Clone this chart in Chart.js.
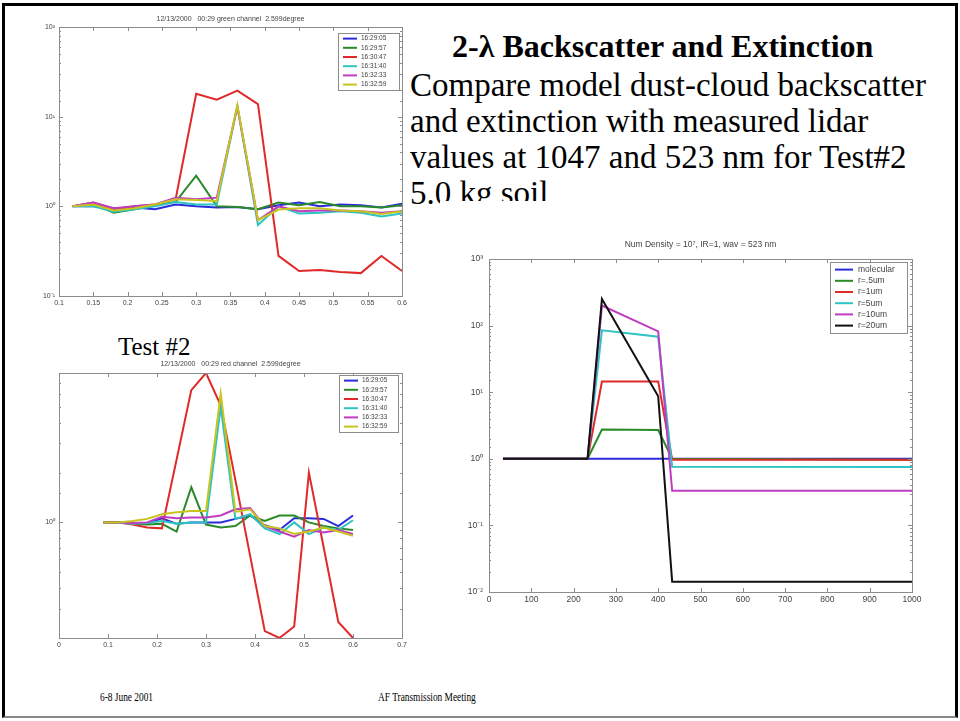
<!DOCTYPE html>
<html>
<head>
<meta charset="utf-8">
<title>2-λ Backscatter and Extinction</title>
<script src="https://cdn.jsdelivr.net/npm/chart.js@4.4.0/dist/chart.umd.min.js"></script>
<style>
  html, body { margin: 0; padding: 0; background: #fff; }
  body { width: 960px; height: 721px; position: relative; overflow: hidden; font-family: "Liberation Serif", "Times New Roman", serif; color: #000; }
  .frame { position: absolute; left: 2px; top: 3px; width: 950px; height: 710px; border: 3px solid #000; border-bottom: 2px solid #888; }
  .abs { position: absolute; white-space: nowrap; }
  .head { left: 452px; top: 28px; font-size: 32px; line-height: 36px; font-weight: bold; }
  .body { left: 410px; top: 67px; font-size: 33px; line-height: 36px; }
  .test { left: 118px; top: 333px; font-size: 25px; line-height: 28px; }
  .foot { top: 689px; font-size: 13px; line-height: 16px; transform: scaleX(0.72); transform-origin: 0 0; }
  canvas { position: absolute; display: block; }
  #greenChart { left: 20px; top: 10px; }
  #redChart { left: 20px; top: 352px; }
  #modelChart { left: 440px; top: 201px; background: #fff; z-index: 2; }
</style>
</head>
<body>
<div class="frame"></div>
<div class="abs head">2-λ Backscatter and Extinction</div>
<div class="abs body">Compare model dust-cloud backscatter<br>and extinction with measured lidar<br>values at 1047 and 523 nm for Test#2<br>5.0 kg soil</div>
<div class="abs test">Test #2</div>
<div class="abs foot" style="left:100px">6-8 June 2001</div>
<div class="abs foot" style="left:378px">AF Transmission Meeting</div>

<canvas id="greenChart" width="400" height="300"></canvas>
<canvas id="redChart" width="400" height="300"></canvas>
<canvas id="modelChart" width="500" height="420"></canvas>

<script>
// lidar runs (legend labels for both measured plots)
const times = ['16:29:05', '16:29:57', '16:30:47', '16:31:40', '16:32:33', '16:32:59'];
const runColors = ['#2b2bdc', '#2a8a2a', '#e02a2a', '#2ec4c4', '#c03cc0', '#c8c41e'];

// green channel (top left)
const greenX = [0.12, 0.15, 0.18, 0.21, 0.24, 0.27, 0.30, 0.33, 0.36, 0.39, 0.42, 0.45, 0.48, 0.51, 0.54, 0.57, 0.60];
const green_162905 = [1.00, 1.00, 0.95, 0.97, 0.93, 1.05, 1.00, 0.97, 0.98, 0.93, 1.03, 1.10, 1.00, 1.05, 1.03, 0.97, 1.07];
const green_162957 = [1.00, 1.05, 0.85, 0.93, 1.02, 1.12, 2.20, 1.00, 0.98, 0.93, 1.10, 1.03, 1.12, 1.00, 1.00, 0.97, 1.03];
const green_163047 = [1.00, 1.10, 0.93, 1.00, 1.05, 1.20, 18.0, 15.5, 19.5, 13.8, 0.28, 0.19, 0.195, 0.185, 0.18, 0.28, 0.19];
const green_163140 = [1.00, 1.00, 0.87, 0.93, 1.00, 1.12, 1.05, 1.05, 13.0, 0.62, 1.00, 0.83, 0.85, 0.88, 0.85, 0.77, 0.83];
const green_163233 = [1.00, 1.10, 0.95, 1.00, 1.05, 1.25, 1.20, 1.25, 13.0, 0.70, 1.00, 0.88, 0.90, 0.90, 0.88, 0.85, 0.88];
const green_163259 = [1.00, 1.05, 0.90, 0.95, 1.05, 1.20, 1.18, 1.15, 13.4, 0.70, 0.92, 0.95, 0.95, 0.90, 0.88, 0.82, 0.88];
const greenXTicks = [0.1, 0.15, 0.2, 0.25, 0.3, 0.35, 0.4, 0.45, 0.5, 0.55, 0.6];
const greenYTicks = [0.1, 1, 10, 100];
const greenYLabels = ['10⁻¹', '10⁰', '10¹', '10²'];

// red channel (bottom left)
const redX = [0.09, 0.12, 0.15, 0.18, 0.21, 0.24, 0.27, 0.30, 0.33, 0.36, 0.39, 0.42, 0.45, 0.48, 0.51, 0.54, 0.57, 0.60];
const red_162905 = [1.00, 1.00, 0.99, 0.98, 1.06, 0.98, 1.00, 1.00, 1.00, 1.05, 1.10, 0.96, 0.90, 1.06, 1.06, 1.05, 0.95, 1.10];
const red_162957 = [1.00, 1.00, 0.98, 0.97, 0.98, 0.88, 1.63, 0.97, 0.93, 0.95, 1.10, 1.02, 1.10, 1.10, 1.00, 0.95, 0.92, 0.90];
const red_163047 = [1.00, 1.00, 0.97, 0.93, 0.92, 2.40, 6.30, 8.00, 5.10, 1.80, 0.63, 0.22, 0.20, 0.235, 2.00, 0.71, 0.25, 0.20];
const red_163140 = [1.00, 1.00, 0.98, 0.99, 1.02, 0.98, 1.00, 1.00, 5.00, 1.05, 1.12, 0.92, 0.85, 1.00, 0.85, 0.93, 0.90, 1.03];
const red_163233 = [1.00, 1.00, 0.99, 1.00, 1.08, 1.06, 1.07, 1.07, 1.10, 1.20, 1.22, 0.95, 0.88, 0.82, 0.90, 0.87, 0.90, 0.85];
const red_163259 = [1.00, 1.00, 1.02, 1.05, 1.12, 1.15, 1.17, 1.17, 6.00, 1.16, 1.20, 0.95, 0.92, 0.85, 0.88, 0.93, 0.88, 0.83];
const redXTicks = [0, 0.1, 0.2, 0.3, 0.4, 0.5, 0.6, 0.7];
const redYTicks = [1];
const redYLabels = ['10⁰'];

// model (right)
const modelX = [33, 233, 267, 400, 433, 1000];
const modelLabels = ['molecular', 'r=.5um', 'r=1um', 'r=5um', 'r=10um', 'r=20um'];
const modelColors = ['#2b2bdc', '#2a8a2a', '#e02a2a', '#2ec4c4', '#c03cc0', '#111111'];
const model_molecular = [1, 1, 1, 1, 1, 1];
const model_r05 = [1, 1, 2.75, 2.7, 1.0, 0.97];
const model_r1 = [1, 1, 14.5, 14.5, 0.97, 0.97];
const model_r5 = [1, 1, 85, 68, 0.76, 0.75];
const model_r10 = [1, 1, 200, 82, 0.33, 0.33];
const model_r20 = [1, 1, 250, 8.7, 0.0143, 0.0143];
const modelXTicks = [0, 100, 200, 300, 400, 500, 600, 700, 800, 900, 1000];
const modelYTicks = [0.01, 0.1, 1, 10, 100, 1000];
const modelYLabels = ['10⁻²', '10⁻¹', '10⁰', '10¹', '10²', '10³'];

const AXIS_FONT = '"Liberation Sans", Arial, sans-serif';

// MATLAB-like box: inward ticks on all sides, title above, boxed legend top right
const matlabAxes = {
    id: 'matlabAxes',
    afterDraw(chart, args, opts) {
        const ctx = chart.ctx;
        const a = chart.chartArea;
        const xs = chart.scales.x, ys = chart.scales.y;
        ctx.save();
        ctx.strokeStyle = '#8c8c8c';
        ctx.lineWidth = 1;
        ctx.beginPath();
        xs.ticks.forEach(t => {
            const px = Math.round(xs.getPixelForValue(t.value)) + 0.5;
            ctx.moveTo(px, a.bottom); ctx.lineTo(px, a.bottom - 4);
            ctx.moveTo(px, a.top); ctx.lineTo(px, a.top + 4);
        });
        ys.ticks.forEach(t => {
            const lg = Math.log10(t.value);
            const len = Math.abs(lg - Math.round(lg)) < 1e-6 ? 4 : 2;
            const py = Math.round(ys.getPixelForValue(t.value)) + 0.5;
            ctx.moveTo(a.left, py); ctx.lineTo(a.left + len, py);
            ctx.moveTo(a.right, py); ctx.lineTo(a.right - len, py);
        });
        ctx.stroke();
        ctx.strokeRect(Math.round(a.left) + 0.5, Math.round(a.top) + 0.5,
            Math.round(a.right - a.left), Math.round(a.bottom - a.top));

        // title
        ctx.fillStyle = '#444';
        ctx.font = opts.titleSize + 'px ' + AXIS_FONT;
        ctx.textAlign = 'center';
        ctx.textBaseline = 'middle';
        ctx.fillText(opts.title, (a.left + a.right) / 2, a.top - opts.titleGap);

        // legend
        const lg = opts.legend;
        const bx = Math.round(a.right - lg.inset - lg.width), by = Math.round(a.top + lg.top);
        ctx.fillStyle = '#fff';
        ctx.fillRect(bx, by, lg.width, lg.height);
        ctx.strokeStyle = '#8c8c8c';
        ctx.lineWidth = 1;
        ctx.strokeRect(bx + 0.5, by + 0.5, lg.width, lg.height);
        ctx.font = lg.size + 'px ' + AXIS_FONT;
        ctx.textAlign = 'left';
        chart.data.datasets.forEach((ds, i) => {
            const y = by + lg.pad + lg.row * (i + 0.5);
            ctx.strokeStyle = ds.borderColor;
            ctx.lineWidth = 2;
            ctx.beginPath();
            ctx.moveTo(bx + lg.lineX, y);
            ctx.lineTo(bx + lg.lineX + lg.lineLen, y);
            ctx.stroke();
            ctx.fillStyle = '#444';
            ctx.fillText(ds.label, bx + lg.lineX + lg.lineLen + lg.gap, y);
        });
        ctx.restore();
    }
};

function makeDatasets(xs, series, labels, colors) {
    return series.map((ys, i) => ({
        label: labels[i],
        data: xs.map((x, j) => ({ x: x, y: ys[j] })),
        borderColor: colors[i],
        borderWidth: 2,
        pointRadius: 0,
        tension: 0,
        fill: false,
        order: series.length - i   // later runs drawn on top, like MATLAB
    }));
}

function logLabel(vals, labels) {
    return function(v) {
        const i = vals.findIndex(t => Math.abs(t - v) / t < 1e-6);
        return i >= 0 ? labels[i] : '';
    };
}

function makeChart(id, cfg) {
    return new Chart(document.getElementById(id), {
        type: 'line',
        data: { datasets: cfg.datasets },
        options: {
            responsive: false,
            animation: false,
            events: [],
            layout: { padding: cfg.padding },
            plugins: {
                legend: { display: false },
                title: { display: false },
                tooltip: { enabled: false },
                matlabAxes: cfg.deco
            },
            scales: {
                x: {
                    type: 'linear',
                    min: cfg.xMin,
                    max: cfg.xMax,
                    grid: { display: false, drawTicks: false },
                    border: { display: false },
                    afterBuildTicks: s => { s.ticks = cfg.xTicks.map(v => ({ value: v })); },
                    afterFit: s => { s.height = cfg.xHeight; },
                    ticks: {
                        autoSkip: false,
                        maxRotation: 0,
                        padding: cfg.tickPad,
                        color: '#444',
                        font: { family: AXIS_FONT, size: cfg.tickSize },
                        callback: v => String(v)
                    }
                },
                y: {
                    type: 'logarithmic',
                    min: cfg.yMin,
                    max: cfg.yMax,
                    grid: { display: false, drawTicks: false },
                    border: { display: false },
                    afterFit: s => { s.width = cfg.yWidth; },
                    ticks: {
                        autoSkip: false,
                        padding: cfg.yPad,
                        color: '#444',
                        font: { family: AXIS_FONT, size: cfg.tickSize },
                        callback: logLabel(cfg.yTicks, cfg.yLabels)
                    }
                }
            }
        },
        plugins: [matlabAxes]
    });
}

document.addEventListener('DOMContentLoaded', function() {
    makeChart('greenChart', {
        datasets: makeDatasets(greenX,
            [green_162905, green_162957, green_163047, green_163140, green_163233, green_163259],
            times, runColors),
        padding: { top: 17, right: 18, bottom: 0, left: 0 },
        xMin: 0.1, xMax: 0.6, xTicks: greenXTicks, xHeight: 14,
        yMin: 0.1, yMax: 100, yTicks: greenYTicks, yLabels: greenYLabels, yWidth: 39,
        tickSize: 7, tickPad: 3, yPad: 4,
        deco: {
            title: '12/13/2000   00:29 green channel  2.599degree', titleSize: 7, titleGap: 8,
            legend: { inset: 3, top: 6, width: 61, height: 57, pad: 1, row: 9.2, lineX: 5, lineLen: 14, gap: 4, size: 6.5 }
        }
    });

    makeChart('redChart', {
        datasets: makeDatasets(redX,
            [red_162905, red_162957, red_163047, red_163140, red_163233, red_163259],
            times, runColors),
        padding: { top: 21, right: 18, bottom: 0, left: 0 },
        xMin: 0, xMax: 0.7, xTicks: redXTicks, xHeight: 14,
        yMin: 0.2, yMax: 8, yTicks: redYTicks, yLabels: redYLabels, yWidth: 39,
        tickSize: 7, tickPad: 3, yPad: 4,
        deco: {
            title: '12/13/2000   00:29 red channel  2.599degree', titleSize: 7, titleGap: 9,
            legend: { inset: 4, top: 2, width: 59, height: 57, pad: 1, row: 9.2, lineX: 5, lineLen: 14, gap: 4, size: 6.5 }
        }
    });

    makeChart('modelChart', {
        datasets: makeDatasets(modelX,
            [model_molecular, model_r05, model_r1, model_r5, model_r10, model_r20],
            modelLabels, modelColors),
        padding: { top: 58, right: 28, bottom: 15, left: 0 },
        xMin: 0, xMax: 1000, xTicks: modelXTicks, xHeight: 14,
        yMin: 0.01, yMax: 1000, yTicks: modelYTicks, yLabels: modelYLabels, yWidth: 49,
        tickSize: 8.5, tickPad: 3, yPad: 6,
        deco: {
            title: 'Num Density = 10⁷, IR=1, wav = 523 nm', titleSize: 8.5, titleGap: 14,
            legend: { inset: 5, top: 3, width: 77, height: 71, pad: 2, row: 11.2, lineX: 5, lineLen: 18, gap: 5, size: 8.5 }
        }
    });
});
</script>
</body>
</html>
